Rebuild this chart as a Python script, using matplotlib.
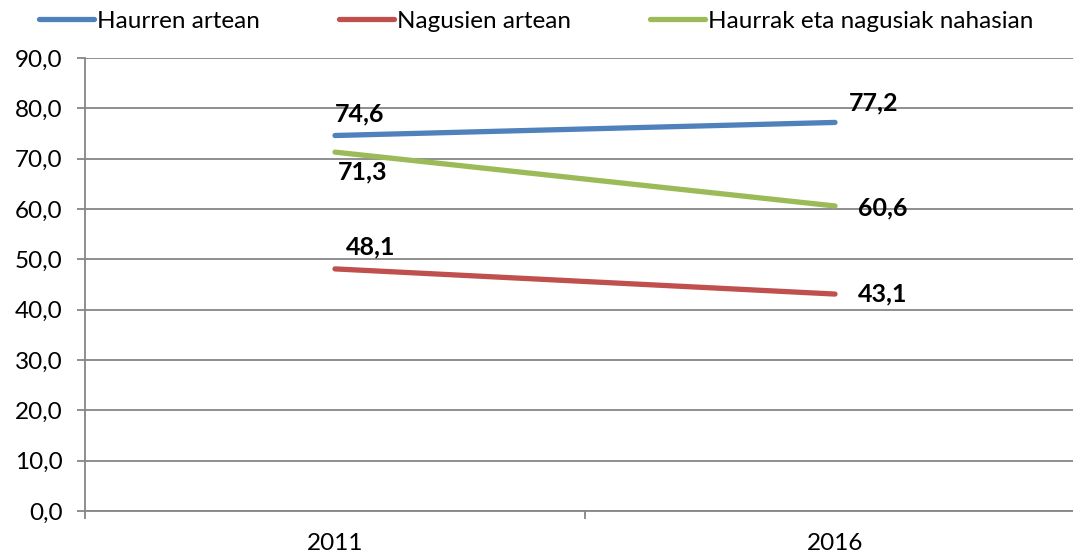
import numpy as np
import matplotlib.pyplot as plt

years = ["2011", "2016"]
series_names = ["Haurren artean", "Nagusien artean", "Haurrak eta nagusiak nahasian"]
haurren = [74.6, 77.2]
nagusien = [48.1, 43.1]
nahasian = [71.3, 60.6]
colors = ["#4F81BD", "#C0504D", "#9BBB59"]

plt.rcParams['font.family'] = ['Lato', 'DejaVu Sans']

fig = plt.figure(figsize=(10.73, 5.54), dpi=100)
ax = fig.add_axes([85 / 1073, 1 - 511 / 554, 1 - 85 / 1073, (511 - 58) / 554])

x = np.arange(len(years))
for vals, name, c in zip([haurren, nagusien, nahasian], series_names, colors):
    ax.plot(x, vals, color=c, lw=3.8, solid_capstyle='round', label=name, zorder=3)

# data labels (offsets in pixels)
offsets = {
    (0, 0): (0, 22), (0, 1): (14, 20),
    (1, 0): (11, 22), (1, 1): (23, 0),
    (2, 0): (3, -20), (2, 1): (23, -2),
}
for i, vals in enumerate([haurren, nagusien, nahasian]):
    for j, v in enumerate(vals):
        dx, dy = offsets[(i, j)]
        ax.annotate(f"{v:.1f}".replace(".", ","), (x[j], v), xytext=(dx, dy),
                    textcoords='offset pixels', ha='left', va='center',
                    fontsize=18, fontweight='bold', color='black', zorder=4)

ax.set_ylim(0, 90)
ax.set_yticks(np.arange(0, 91, 10))
ax.set_yticklabels([f"{t:.1f}".replace(".", ",") for t in np.arange(0, 91, 10)], fontsize=17.5)
ax.set_xticks([-0.5, 0.5, 1.5])
ax.set_xticklabels([])
ax.set_xticks(x, minor=True)
ax.set_xticklabels(years, minor=True, fontsize=17.5)
ax.set_xlim(-0.5, (1073 - 85) / 500 - 0.5)
ax.tick_params(axis='x', which='minor', length=0, pad=16)
ax.tick_params(axis='x', which='major', length=6, color='#868686', width=1.3)
ax.tick_params(axis='y', length=6, color='#868686', width=1.3, pad=10)

ax.grid(axis='y', color='#868686', lw=1.3, zorder=0)
for s in ['top', 'right']:
    ax.spines[s].set_visible(False)
for s in ['left', 'bottom']:
    ax.spines[s].set_color('#868686')
    ax.spines[s].set_linewidth(1.3)

fig.legend(loc='center', bbox_to_anchor=(536 / 1073, 1 - 21 / 554), ncol=3, frameon=False,
           fontsize=17.5, handlelength=2.26, handletextpad=0.12, columnspacing=3.25)

fig.savefig("out.png", dpi=100)
